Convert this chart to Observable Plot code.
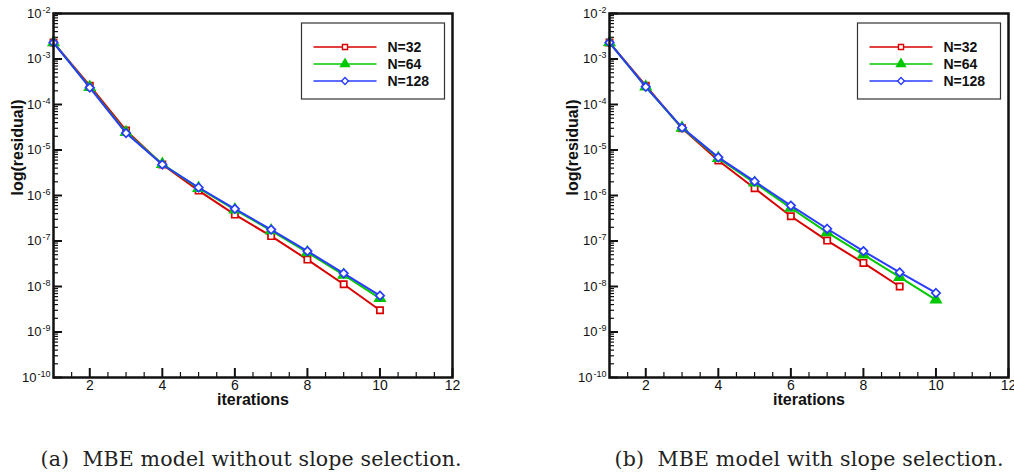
<!DOCTYPE html>
<html><head><meta charset="utf-8">
<script src="https://cdn.jsdelivr.net/npm/d3@7"></script>
<script src="https://cdn.jsdelivr.net/npm/@observablehq/plot@0.6"></script>
<style>
body{margin:0;background:#fff;}
#wrap{position:relative;width:1014px;height:473px;overflow:hidden;background:#fff;}
.panel{position:absolute;top:0;}
#caps{position:absolute;left:0;top:420px;}
</style></head><body>
<div id="wrap"></div>
<script>
// ---- data ----
const iterations = [1, 2, 3, 4, 5, 6, 7, 8, 9, 10];
const seriesNames = ["N=32", "N=64", "N=128"];
const seriesColors = ["#d80000", "#00c800", "#2a3cff"];
const seriesSymbols = ["square2", "triangle", "diamond2"];

// (a) without slope selection
const leftN32  = [2.3e-3, 2.6e-4, 2.7e-5, 4.8e-6, 1.28e-6, 3.8e-7, 1.28e-7, 3.9e-8, 1.12e-8, 3.0e-9];
const leftN64  = [2.3e-3, 2.4e-4, 2.45e-5, 4.9e-6, 1.45e-6, 4.9e-7, 1.7e-7, 5.6e-8, 1.8e-8, 5.5e-9];
const leftN128 = [2.3e-3, 2.35e-4, 2.35e-5, 4.8e-6, 1.5e-6, 5.1e-7, 1.78e-7, 6.0e-8, 1.95e-8, 6.3e-9];

// (b) with slope selection
const rightN32  = [2.3e-3, 2.6e-4, 3.0e-5, 5.9e-6, 1.44e-6, 3.5e-7, 1.02e-7, 3.3e-8, 1.0e-8];
const rightN64  = [2.3e-3, 2.45e-4, 3.05e-5, 6.6e-6, 1.9e-6, 5.3e-7, 1.55e-7, 5.0e-8, 1.6e-8, 5.1e-9];
const rightN128 = [2.3e-3, 2.45e-4, 3.1e-5, 6.9e-6, 2.04e-6, 6.0e-7, 1.86e-7, 6.0e-8, 2.04e-8, 7.2e-9];

const xMajorTicks = [2, 4, 6, 8, 10, 12];
const yMajorTicks = [1e-2, 1e-3, 1e-4, 1e-5, 1e-6, 1e-7, 1e-8, 1e-9, 1e-10];
const axisLabelX = "iterations";
const axisLabelY = "log(residual)";
const captions = ["(a)\u00a0 MBE model without slope selection.", "(b)\u00a0 MBE model with slope selection."];

// ---- drawing ----
const d3Symbols = [d3.symbolSquare, d3.symbolTriangle, d3.symbolDiamond2];
const legendSizes = [26, 34, 30];

function panel(series, {width, marginLeft, marginRight, labelDx}) {
  const height = 420, marginTop = 13, marginBottom = 43;
  const frameW = width - marginLeft - marginRight;
  const frameH = height - marginTop - marginBottom;
  const xMinor = d3.range(1.5, 12, 0.5).filter(d => !xMajorTicks.includes(d));
  const yMinor = [];
  for (let e = -10; e < -2; e++) for (let k = 2; k <= 9; k++) yMinor.push(k * Math.pow(10, e));

  const seriesMarks = [];
  series.forEach((vals, s) => {
    const rows = vals.map((v, i) => ({it: iterations[i], v}));
    seriesMarks.push(Plot.line(rows, {x: "it", y: "v", stroke: seriesColors[s], strokeWidth: 2}));
    seriesMarks.push(Plot.dot(rows, {x: "it", y: "v", symbol: () => seriesSymbols[s], r: s === 0 ? 4 : 3.8,
      stroke: seriesColors[s], fill: s === 1 ? seriesColors[s] : "white", strokeWidth: 1.7}));
  });

  const svg = Plot.plot({
    width, height, marginLeft, marginRight, marginTop, marginBottom,
    style: {fontFamily: "'Liberation Sans', Arial, sans-serif", background: "white", color: "#111", overflow: "visible"},
    x: {domain: [1, 12]},
    y: {type: "log", domain: [1e-10, 1e-2]},
    symbol: {type: "identity"},
    marks: [
      Plot.tickY(yMinor, {y: d => d, insetRight: frameW - 5, strokeWidth: 1.2}),
      Plot.tickY(yMajorTicks, {y: d => d, insetRight: frameW - 9, strokeWidth: 2}),
      Plot.tickX(xMinor, {x: d => d, insetTop: frameH - 5, strokeWidth: 1.2}),
      Plot.tickX(xMajorTicks, {x: d => d, insetTop: frameH - 9, strokeWidth: 2}),
      Plot.axisX(xMajorTicks, {anchor: "bottom", tickSize: 0, tickPadding: 3, label: null, tickFormat: d => String(d)}),
      Plot.axisY(yMajorTicks, {anchor: "left", tickSize: 0, tickPadding: 3, label: null,
        tickFormat: d => "10^" + Math.round(Math.log10(d))}),
      ...seriesMarks,
      Plot.frame({strokeWidth: 2.5}),
      Plot.text([axisLabelX], {text: d => d, frameAnchor: "bottom", dy: 27, fontSize: 16, fontWeight: "bold"}),
      Plot.text([axisLabelY], {text: d => d, frameAnchor: "left", dx: labelDx, rotate: -90, fontSize: 16, fontWeight: "bold"})
    ]
  });

  const root = d3.select(svg);
  root.selectAll('g[aria-label="x-axis tick label"]').attr("font-size", 14);
  root.selectAll('g[aria-label="x-axis tick label"] text').attr("font-size", 14);
  root.selectAll('g[aria-label="y-axis tick label"]').attr("font-size", 13);
  // superscript exponents
  root.selectAll('g[aria-label="y-axis tick label"] text').each(function() {
    const t = this.textContent;
    const [b, e] = t.split("^");
    const el = d3.select(this);
    el.attr("font-size", 13);
    el.text("");
    el.append("tspan").text(b);
    el.append("tspan").attr("dy", "-0.55em").attr("dx", "1").attr("font-size", 9).text(e);
  });

  // legend
  const bw = 143, bh = 76;
  const bx = width - marginRight - 7.5 - bw, by = marginTop + 10;
  const g = root.append("g").attr("text-anchor", "start");
  g.append("rect").attr("x", bx).attr("y", by).attr("width", bw).attr("height", bh)
    .attr("fill", "white").attr("stroke", "#333").attr("stroke-width", 1.2);
  seriesNames.forEach((n, i) => {
    const yy = by + 24 + i * 17;
    g.append("line").attr("x1", bx + 12).attr("x2", bx + 75).attr("y1", yy).attr("y2", yy)
      .attr("stroke", seriesColors[i]).attr("stroke-width", 1.6);
    g.append("path").attr("d", d3.symbol(d3Symbols[i], legendSizes[i])())
      .attr("transform", `translate(${bx + 43.5},${yy})`)
      .attr("fill", i === 1 ? seriesColors[i] : "white").attr("stroke", seriesColors[i]).attr("stroke-width", 1.4);
    g.append("text").attr("x", bx + 86).attr("y", yy).attr("dy", "0.36em").attr("text-anchor", "start")
      .attr("font-size", 14).attr("font-weight", "bold").attr("fill", "#111").text(n);
  });
  return svg;
}

const wrap = document.getElementById("wrap");
const panels = [
  {left: 0, series: [leftN32, leftN64, leftN128], width: 507, marginLeft: 53, marginRight: 55, labelDx: -36, capX: 251, capW: 421},
  {left: 556, series: [rightN32, rightN64, rightN128], width: 458, marginLeft: 53, marginRight: 6, labelDx: -37, capX: 809, capW: 389}
];
panels.forEach((p) => {
  const div = document.createElement("div");
  div.className = "panel";
  div.style.left = p.left + "px";
  div.appendChild(panel(p.series, p));
  wrap.appendChild(div);
});
const capSvg = d3.select(wrap).append("svg").attr("id", "caps").attr("width", 1014).attr("height", 53);
panels.forEach((p, i) => {
  capSvg.append("text").attr("x", p.capX).attr("y", 46).attr("text-anchor", "middle")
    .attr("font-family", "'DejaVu Serif', 'Liberation Serif', serif").attr("font-size", 20.5).attr("fill", "#222")
    .attr("textLength", p.capW).attr("lengthAdjust", "spacing").text(captions[i]);
});
</script>
</body></html>
